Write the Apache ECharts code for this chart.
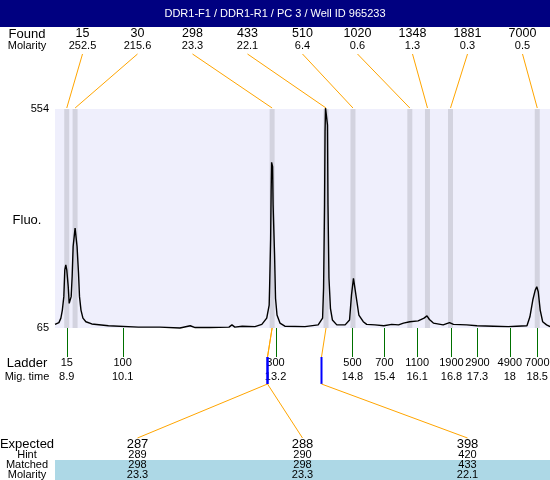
<!DOCTYPE html>
<html><head><meta charset="utf-8">
<script src="https://cdn.jsdelivr.net/npm/echarts@6/dist/echarts.min.js"></script>
<style>html,body{margin:0;padding:0;background:#fff}#c{width:550px;height:480px}</style>
</head><body><div id="c"></div>
<script>
const titleText = 'DDR1-F1 / DDR1-R1 / PC 3 / Well ID 965233';

// Found peaks
const foundSize = [15, 30, 298, 433, 510, 1020, 1348, 1881, 7000];
const foundMolarity = ['252.5', '215.6', '23.3', '22.1', '6.4', '0.6', '1.3', '0.3', '0.5'];
const foundTime = [8.90, 9.07, 13.09, 14.19, 14.74, 15.90, 16.26, 16.73, 18.50];

// Ladder
const ladderSize = [15, 100, 300, 500, 700, 1100, 1900, 2900, 4900, 7000];
const ladderMigTime = ['8.9', '10.1', '13.2', '14.8', '15.4', '16.1', '16.8', '17.3', '18', '18.5'];
const ladderTime = [8.90, 10.04, 13.16, 14.73, 15.38, 16.05, 16.75, 17.28, 17.94, 18.50];

// Expected / matched
const expectedSize = [287, 288, 398];
const hintSize = [289, 290, 420];
const hintTime = [12.98, 12.98, 14.08];
const matchedSize = [298, 298, 433];
const matchedMolarity = ['23.3', '23.3', '22.1'];
const matchedPeak = [2, 2, 3];

// Fluorescence trace
const traceTime = [8.66,8.74,8.78,8.81,8.84,8.86,8.88,8.90,8.93,8.95,
  8.97,8.99,9.01,9.03,9.07,9.09,9.11,9.14,9.16,9.19,
  9.23,9.29,9.41,9.75,10.36,10.80,11.21,11.42,11.52,11.82,
  12.21,12.27,12.33,12.48,12.74,12.88,12.98,13.03,13.04,13.06,
  13.07,13.08,13.10,13.11,13.14,13.16,13.19,13.25,13.35,13.76,
  14.03,14.12,14.14,14.16,14.17,14.18,14.21,14.22,14.23,14.25,
  14.28,14.32,14.41,14.58,14.67,14.71,14.75,14.78,14.82,14.86,
  14.95,15.02,15.19,15.37,15.53,15.67,15.77,15.90,16.07,16.19,
  16.25,16.30,16.38,16.58,16.71,16.79,17.06,17.27,17.61,17.91,
  18.08,18.29,18.35,18.41,18.46,18.49,18.52,18.56,18.61,18.69,18.76];
const traceFluo = [73,77,87,105,135,195,206,195,157,120,
  116,135,180,247,288,285,247,187,135,105,
  87,79,74,70,67,67,65,70,66,66,
  67,72,67,69,68,73,87,116,161,265,
  369,435,425,340,228,131,94,76,69,68,
  72,87,154,340,503,556,559,518,340,176,
  109,83,72,72,83,139,176,172,124,94,
  79,73,72,70,73,72,76,79,81,87,
  92,84,76,72,77,73,72,70,69,68,
  69,70,90,128,150,157,146,105,79,72,68];

const FONT = '"Liberation Sans", Arial, sans-serif';
const ORANGE = '#FFA500';
const chart = echarts.init(document.getElementById('c'), null, {renderer: 'canvas'});

function txt(text, x, y, size, color) {
  return {type: 'text', style: {text: String(text), x: x, y: y, font: size + 'px ' + FONT,
    fill: color || '#000', align: 'center', verticalAlign: 'middle',
    textAlign: 'center', textVerticalAlign: 'middle'}};
}
function seg(x1, y1, x2, y2, color, w) {
  return {type: 'line', shape: {x1: x1, y1: y1, x2: x2, y2: y2}, style: {stroke: color, lineWidth: w || 1}};
}
function px(x) { return Math.round(x) + 0.5; }

const option = {
  animation: false,
  backgroundColor: '#fff',
  grid: {left: 55, top: 109, width: 495, height: 219, show: true, backgroundColor: '#EFEFFC',
    borderWidth: 0, containLabel: false, outerBoundsMode: 'none'},
  xAxis: {type: 'value', min: 8.66, max: 18.76, show: false},
  yAxis: {type: 'value', min: 65, max: 554, interval: 489,
    axisLine: {show: false}, axisTick: {show: false}, splitLine: {show: false},
    axisLabel: {fontSize: 11, color: '#000', margin: 6, fontFamily: FONT}},
  graphic: [
    {type: 'rect', shape: {x: 0, y: 0, width: 550, height: 27}, style: {fill: '#000080'}},
    {type: 'text', style: {text: titleText, x: 275, y: 14, font: '11px ' + FONT, fill: '#fff', align: 'center', verticalAlign: 'middle', textAlign: 'center', textVerticalAlign: 'middle'}},
    {type: 'rect', shape: {x: 55, y: 460, width: 495, height: 20}, style: {fill: '#ADD8E6'}},
    txt('Found', 27, 34, 13), txt('Molarity', 27, 46, 11), txt('Fluo.', 27, 220, 13),
    txt('Ladder', 27, 363, 13), txt('Mig. time', 27, 377, 11),
    txt('Expected', 27, 444, 13), txt('Hint', 27, 455, 11), txt('Matched', 27, 465, 11), txt('Molarity', 27, 475, 11)
  ],
  series: [
    { // peak bands
      type: 'custom', z: 1, silent: true,
      data: foundTime.map(t => [t, 65]),
      renderItem: function (params, api) {
        const cs = params.coordSys;
        const x = api.coord([api.value(0), 65])[0];
        return {type: 'rect', shape: {x: x - 2.5, y: cs.y, width: 5, height: cs.height}, style: {fill: '#D3D3DF'}};
      }
    },
    { // trace
      type: 'line', z: 3, showSymbol: false, clip: false, silent: true,
      data: traceTime.map((t, i) => [t, traceFluo[i]]),
      lineStyle: {color: '#000', width: 1.4}
    },
    { // found labels + connectors
      type: 'custom', z: 4, silent: true,
      data: foundTime.map(t => [t, 65]),
      renderItem: function (params, api) {
        const cs = params.coordSys, i = params.dataIndex;
        const bx = api.coord([api.value(0), 65])[0];
        const cx = cs.x + cs.width * (i + 0.5) / foundSize.length;
        return {type: 'group', children: [
          txt(foundSize[i], cx, cs.y - 75, 12.5),
          txt(foundMolarity[i], cx, cs.y - 63, 11),
          seg(cx, cs.y - 55, bx, cs.y - 1, ORANGE, 1)
        ]};
      }
    },
    { // ladder
      type: 'custom', z: 4, silent: true,
      data: ladderTime.map(t => [t, 65]),
      renderItem: function (params, api) {
        const cs = params.coordSys, i = params.dataIndex;
        const bx = api.coord([api.value(0), 65])[0];
        const b = cs.y + cs.height;
        return {type: 'group', children: [
          seg(px(bx), b, px(bx), b + 29, '#007000', 1),
          txt(ladderSize[i], bx, b + 35, 11),
          txt(ladderMigTime[i], bx, b + 49, 11)
        ]};
      }
    },
    { // expected / matched
      type: 'custom', z: 5, silent: true,
      data: hintTime.map(t => [t, 65]),
      renderItem: function (params, api) {
        const cs = params.coordSys, i = params.dataIndex;
        const hx = px(api.coord([api.value(0), 65])[0]);
        const pkx = api.coord([foundTime[matchedPeak[i]], 65])[0];
        const cx = cs.x + cs.width * (i + 0.5) / expectedSize.length;
        const b = cs.y + cs.height;
        return {type: 'group', children: [
          seg(pkx, b, hx, b + 29, ORANGE, 1),
          seg(hx, b + 29, hx, b + 56, '#0000FF', 2),
          seg(hx, b + 56, cx, b + 110, ORANGE, 1),
          txt(expectedSize[i], cx, b + 116, 13),
          txt(hintSize[i], cx, b + 127, 11),
          txt(matchedSize[i], cx, b + 137, 11),
          txt(matchedMolarity[i], cx, b + 147, 11)
        ]};
      }
    }
  ]
};
chart.setOption(option);
</script>
</body></html>
